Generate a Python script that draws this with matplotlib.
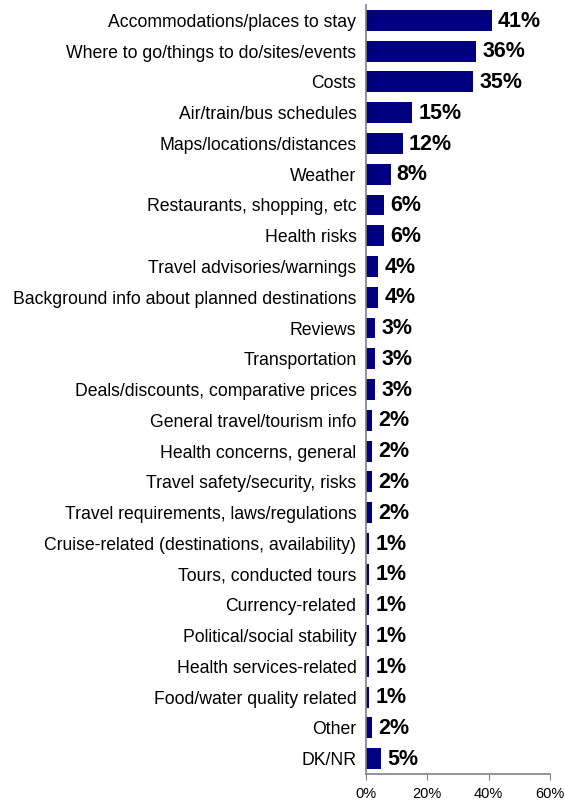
import matplotlib
matplotlib.use("Agg")
import matplotlib.pyplot as plt
from matplotlib.ticker import FuncFormatter

categories = [
    "Accommodations/places to stay",
    "Where to go/things to do/sites/events",
    "Costs",
    "Air/train/bus schedules",
    "Maps/locations/distances",
    "Weather",
    "Restaurants, shopping, etc",
    "Health risks",
    "Travel advisories/warnings",
    "Background info about planned destinations",
    "Reviews",
    "Transportation",
    "Deals/discounts, comparative prices",
    "General travel/tourism info",
    "Health concerns, general",
    "Travel safety/security, risks",
    "Travel requirements, laws/regulations",
    "Cruise-related (destinations, availability)",
    "Tours, conducted tours",
    "Currency-related",
    "Political/social stability",
    "Health services-related",
    "Food/water quality related",
    "Other",
    "DK/NR",
]
values = [41, 36, 35, 15, 12, 8, 6, 6, 4, 4, 3, 3, 3, 2, 2, 2, 2, 1, 1, 1, 1, 1, 1, 2, 5]
x_ticks = [0, 20, 40, 60]

plt.rcParams["font.family"] = ["Liberation Sans", "DejaVu Sans"]

fig = plt.figure(figsize=(5.65, 8.01), dpi=100)
ax = fig.add_axes([0.648, 0.0337, 0.325, 0.960])

pos = list(range(len(categories)))
ax.barh(pos, values, height=0.68, color="#000080")
for p, v in zip(pos, values):
    ax.annotate(f"{v}%", xy=(v, p), xytext=(4.5, -0.5), textcoords="offset points",
                va="center", ha="left", fontsize=15.5, fontweight="bold",
                color="black")

ax.set_ylim(len(categories) - 0.5, -0.5)
ax.set_xlim(0, 60)
ax.set_yticks(pos)
ax.set_yticklabels(categories, fontsize=12.7)
ax.tick_params(axis="y", length=0, pad=7)
ax.set_xticks(x_ticks)
ax.xaxis.set_major_formatter(FuncFormatter(lambda v, _: f"{v:.0f}%"))
ax.tick_params(axis="x", labelsize=10.5, length=4, color="#808080", pad=5)

for s in ("top", "right"):
    ax.spines[s].set_visible(False)
for s in ("left", "bottom"):
    ax.spines[s].set_color("#808080")
    ax.spines[s].set_linewidth(1.2)

fig.savefig("out.png", dpi=100)
